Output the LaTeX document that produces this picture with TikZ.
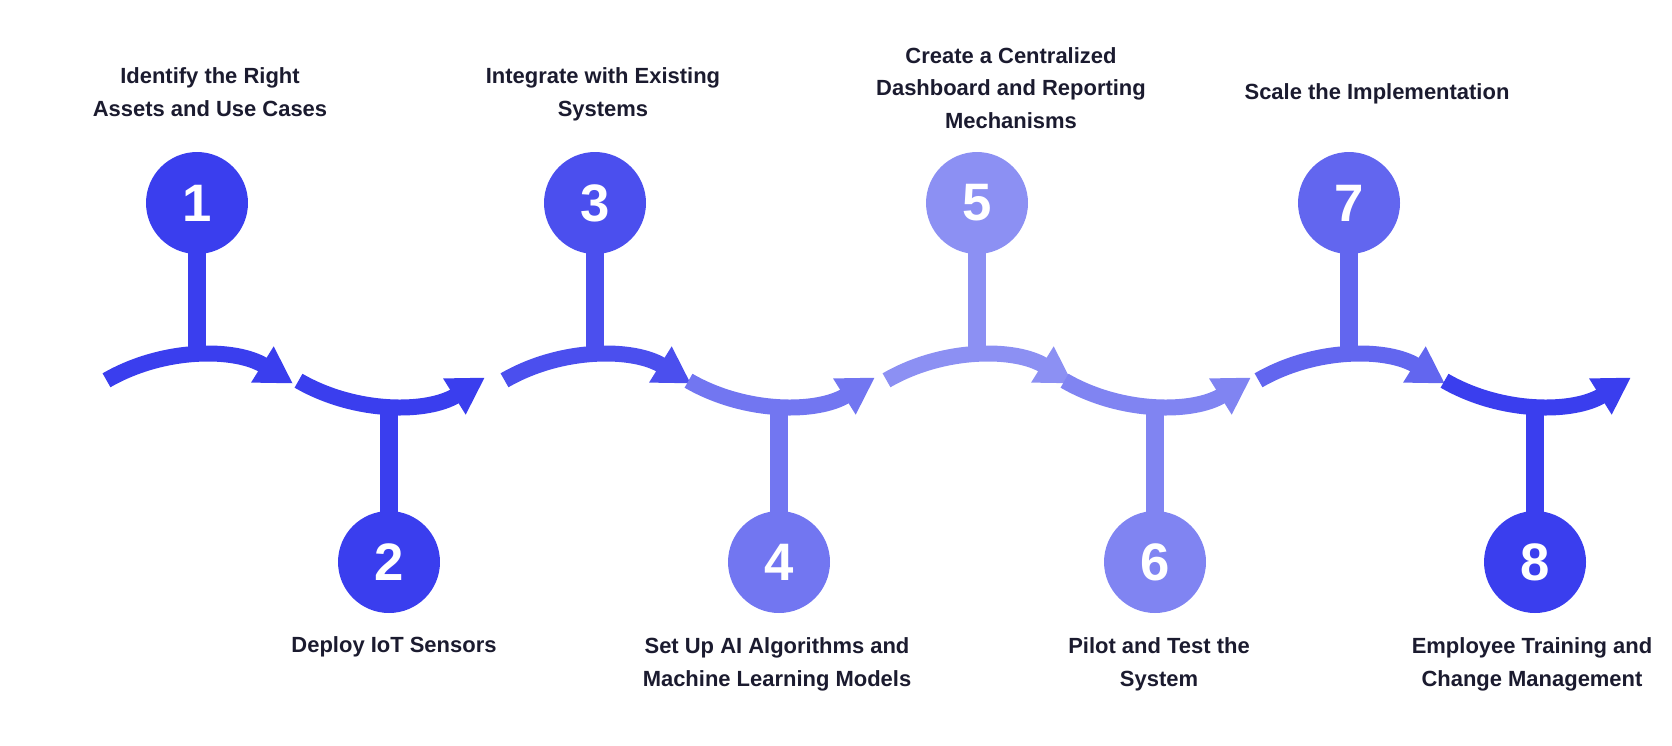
\documentclass[tikz,border=0pt]{standalone}
\usepackage{fontspec}
\setmainfont{Liberation Sans}
\usetikzlibrary{arrows.meta}
\definecolor{cA}{HTML}{3A3EEE}
\definecolor{cB}{HTML}{4B4FEE}
\definecolor{cC}{HTML}{7276F1}
\definecolor{cD}{HTML}{8C90F3}
\definecolor{cE}{HTML}{8084F2}
\definecolor{cF}{HTML}{6266EF}
\definecolor{txt}{HTML}{1B1B2F}
\tikzset{
  circ/.style={circle, fill=#1, minimum size=2.04cm, inner sep=0pt, text=white,
    font=\fontsize{30}{30}\selectfont\bfseries},
  stem/.style={draw=#1, line width=0.36cm},
  flow/.style={draw=#1, line width=0.32cm, -{Triangle[length=0.72cm,width=0.8cm]}},
  lbl/.style={text=txt, align=center, font=\fontsize{12.5}{18.7}\selectfont\bfseries}
}
\begin{document}
\begin{tikzpicture}[x=0.02cm,y=0.02cm]
  \useasboundingbox (0,0) rectangle (1672,-745);

  % Steps: number / x / colour / up(1) or down(0)
  \foreach \n/\cx/\col/\up in {1/197/cA/1,2/389/cA/0,3/595/cB/1,4/779/cC/0,
                               5/977/cD/1,6/1155/cE/0,7/1349/cF/1,8/1535/cA/0}
  {
    \ifnum\up=1
      \coordinate (p\n) at (\cx,-203);
      \coordinate (a\n) at (\cx,-356);
      \draw[flow=\col] (a\n) ++(120:0cm) ++(0,-181) ++(120:3.62cm)
        arc[start angle=120, end angle=58, radius=3.62cm];
    \else
      \coordinate (p\n) at (\cx,-562);
      \coordinate (a\n) at (\cx,-405);
      \draw[flow=\col] (a\n) ++(0,181) ++(240:3.62cm)
        arc[start angle=240, end angle=302, radius=3.62cm];
    \fi
    \draw[stem=\col] (p\n) -- (a\n);
    \node[circ=\col] (n\n) at (p\n) {\n};
  }

  % Labels
  \node[lbl] (t1) at (210,-92) {Identify the Right\\Assets and Use Cases};
  \node[lbl] (t2) at (394,-647) {Deploy IoT Sensors};
  \node[lbl] (t3) at (603,-94) {Integrate with Existing\\Systems};
  \node[lbl] (t4) at (777,-664) {Set Up AI Algorithms and\\Machine Learning Models};
  \node[lbl] (t5) at (1011,-88) {Create a Centralized\\Dashboard and Reporting\\Mechanisms};
  \node[lbl] (t6) at (1159,-664) {Pilot and Test the\\System};
  \node[lbl] (t7) at (1377,-94) {Scale the Implementation};
  \node[lbl] (t8) at (1532,-664) {Employee Training and\\Change Management};
\end{tikzpicture}
\end{document}
